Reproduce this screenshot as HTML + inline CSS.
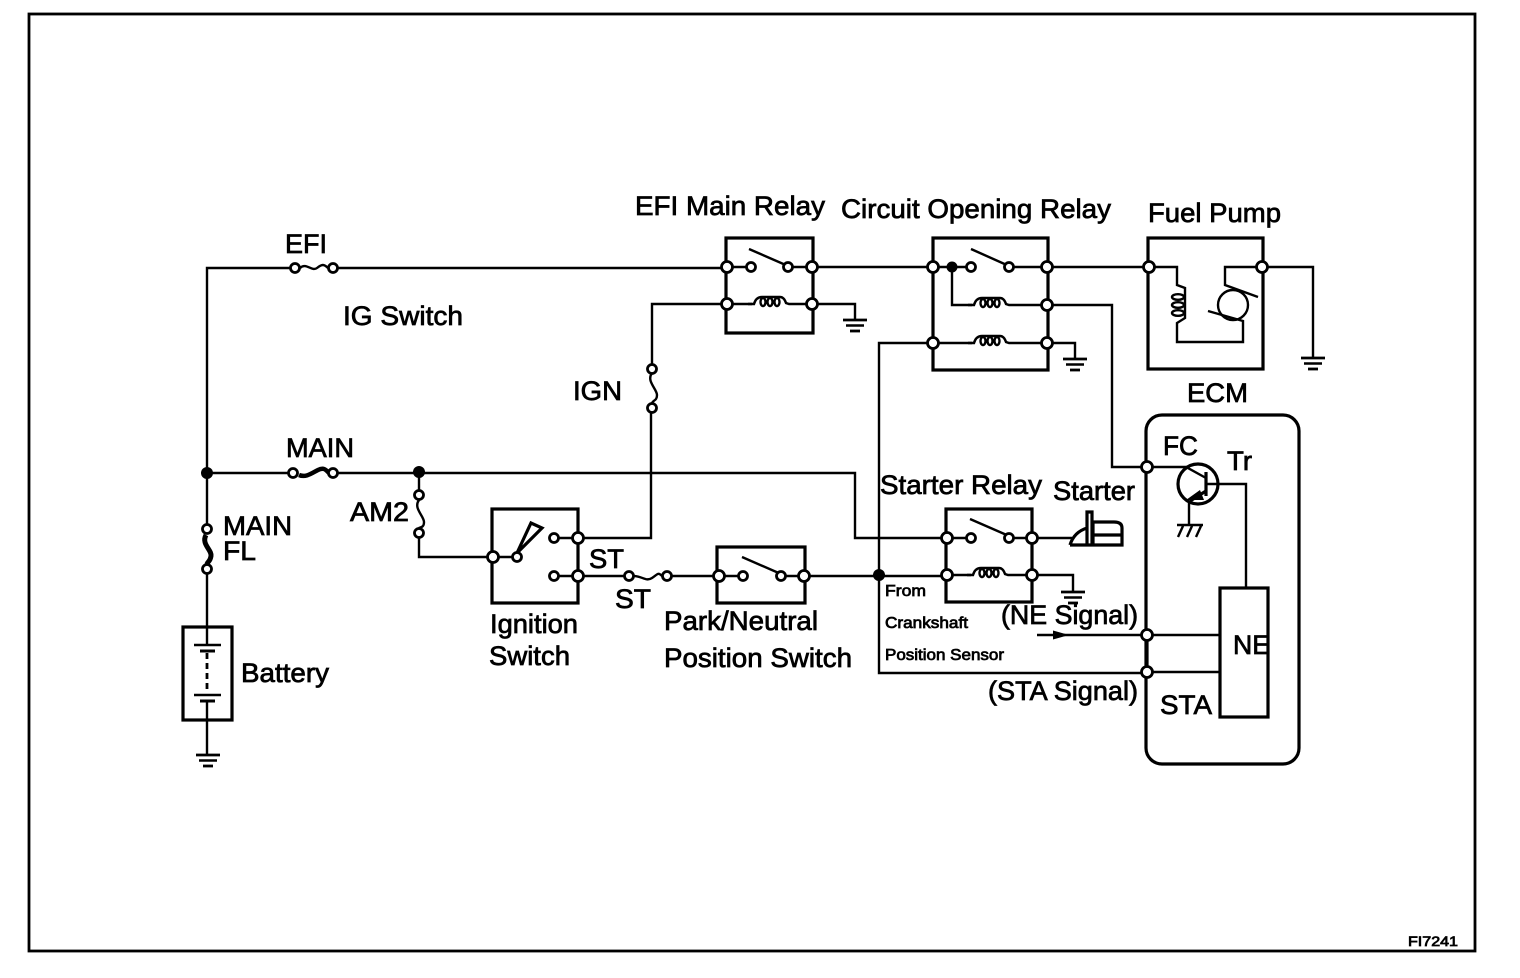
<!DOCTYPE html>
<html>
<head>
<meta charset="utf-8">
<style>
html,body{margin:0;padding:0;background:#fff}
svg{display:block}
text{font-family:"Liberation Sans",sans-serif;fill:#000;stroke:#000;stroke-width:.75;font-size:27px}
.w{fill:none;stroke:#000;stroke-width:2.4}
.b{fill:none;stroke:#000;stroke-width:3.2}
.c{fill:#fff;stroke:#000;stroke-width:2.8}
.n{fill:#000}
</style>
</head>
<body>
<svg width="1520" height="978" viewBox="0 0 1520 978" xmlns="http://www.w3.org/2000/svg">
<defs>
<g id="coil" fill="none" stroke="#000">
<path stroke-width="2.4" d="M0 0H6Q8-7 14-7H32Q36-7 38-1L41 0H49"/>
<ellipse cx="15" cy="-2" rx="2.500" ry="4" stroke-width="2.400"/>
<ellipse cx="22" cy="-2" rx="2.500" ry="4" stroke-width="2.400"/>
<ellipse cx="29" cy="-2" rx="2.500" ry="4" stroke-width="2.400"/>
</g>
<g id="gnd"><path d="M-12 0H12" stroke="#000" stroke-width="2.8"/><path d="M-9 5.500H9" stroke="#000" stroke-width="2.6"/><path d="M-5 11H5" stroke="#000" stroke-width="2.8"/></g>
</defs>
<rect x="29" y="14" width="1446" height="937" fill="none" stroke="#000" stroke-width="2.8"/>

<!-- main wiring -->
<path class="w" d="M207 473V268H295M333 268H727"/>
<path class="w" d="M207 473H293M333 473H855V538H947"/>
<path class="w" d="M207 473V529M207 569V627M207 720V755"/>
<path class="w" d="M419 472V495M419 533V557H493"/>
<path class="w" d="M578 538H651V408M652 368V304H727"/>
<path class="w" d="M578 576H629M667 576H719M804 576H947"/>
<path class="w" d="M812 267H933M1047 267H1149"/>
<path class="w" d="M933 343H879V673H1147"/>
<path class="w" d="M1047 305H1112V467H1147"/>
<path class="w" d="M1037 635H1147"/>

<!-- fuses -->
<path class="w" d="M300 268C306 262 312 272 317 268S324 264 328 268" stroke-width="2.800"/>
<path fill="none" stroke="#000" stroke-width="4.500" d="M299 475C306 478 312 473 318 470S326 470 329 473"/>
<path fill="none" stroke="#000" stroke-width="5" d="M206 535C201 544 212 550 211 556S208 561 207 564"/>
<path class="w" d="M419 500C413 508 424 516 424 522S420 527 419 528" stroke-width="2.800"/>
<path class="w" d="M652 373C646 381 657 389 657 395S653 400 652 403" stroke-width="2.800"/>
<path class="w" d="M634 576C642 576 646 582 652 578S658 572 662 576" stroke-width="2.800"/>
<circle class="c" cx="295" cy="268" r="4.500"/><circle class="c" cx="333" cy="268" r="4.500"/>
<circle class="c" cx="293" cy="473" r="4.500"/><circle class="c" cx="333" cy="473" r="4.500"/>
<circle class="c" cx="207" cy="529" r="4.500"/><circle class="c" cx="207" cy="569" r="4.500"/>
<circle class="c" cx="419" cy="495" r="4.500"/><circle class="c" cx="419" cy="533" r="4.500"/>
<circle class="c" cx="652" cy="369" r="4.500"/><circle class="c" cx="652" cy="408" r="4.500"/>
<circle class="c" cx="629" cy="576" r="4.500"/><circle class="c" cx="667" cy="576" r="4.500"/>

<!-- junctions -->
<circle class="n" cx="207" cy="473" r="6"/>
<circle class="n" cx="419" cy="472" r="6"/>
<circle class="n" cx="879" cy="575" r="6"/>

<!-- battery -->
<rect class="b" x="183" y="627" width="49" height="93"/>
<path class="w" d="M207 627V645M194 645H221M207 701V720"/>
<path d="M200 651H215M200 701H215" stroke="#000" stroke-width="3"/>
<path class="w" d="M194 695H221" stroke-width="1.600"/>
<path d="M207 653V693" stroke="#000" stroke-width="2.800" stroke-dasharray="6 4" fill="none"/>
<use href="#gnd" x="208" y="755"/>

<!-- EFI main relay -->
<rect class="b" x="726" y="238" width="87" height="95"/>
<path class="w" d="M727 267H751M788 267H812M749 249L788 266"/>
<path class="w" d="M727 304H752"/><use href="#coil" x="748" y="304"/><path class="w" d="M797 304H855V320"/>
<use href="#gnd" x="855" y="320"/>
<circle class="c" cx="727" cy="267" r="5.500"/><circle class="c" cx="751" cy="267" r="4.500"/><circle class="c" cx="788" cy="267" r="4.500"/><circle class="c" cx="812" cy="267" r="5.500"/>
<circle class="c" cx="727" cy="304" r="5.500"/><circle class="c" cx="812" cy="304" r="5.500"/>

<!-- circuit opening relay -->
<rect class="b" x="933" y="238" width="115" height="132"/>
<path class="w" d="M933 267H971M1009 267H1047M971 249L1009 266"/>
<path class="w" d="M952 267V305H972"/><use href="#coil" x="968" y="305"/><path class="w" d="M1017 305H1047"/>
<path class="w" d="M933 343H972"/><use href="#coil" x="968" y="343"/><path class="w" d="M1017 343H1075V359"/>
<use href="#gnd" x="1075" y="359"/>
<circle class="n" cx="952" cy="267" r="5.500"/>
<circle class="c" cx="933" cy="267" r="5.500"/><circle class="c" cx="971" cy="267" r="4.500"/><circle class="c" cx="1009" cy="267" r="4.500"/><circle class="c" cx="1047" cy="267" r="5.500"/>
<circle class="c" cx="1047" cy="305" r="5.500"/><circle class="c" cx="933" cy="343" r="5.500"/><circle class="c" cx="1047" cy="343" r="5.500"/>

<!-- fuel pump -->
<rect class="b" x="1148" y="238" width="115" height="131"/>
<path class="w" d="M1149 267H1177V285L1185 288V318L1177 323V342H1243V321L1208 311"/>
<ellipse cx="1178" cy="297" rx="6" ry="2.800" fill="none" stroke="#000" stroke-width="2.400"/>
<ellipse cx="1178" cy="305" rx="6" ry="2.800" fill="none" stroke="#000" stroke-width="2.400"/>
<ellipse cx="1178" cy="313" rx="6" ry="2.800" fill="none" stroke="#000" stroke-width="2.400"/>
<path class="w" d="M1262 267H1225V285L1258 297"/>
<circle class="w" cx="1233" cy="305" r="15"/>
<path class="w" d="M1262 267H1313V358"/>
<use href="#gnd" x="1313" y="358"/>
<circle class="c" cx="1149" cy="267" r="5.500"/><circle class="c" cx="1262" cy="267" r="5.500"/>

<!-- ignition switch -->
<rect class="b" x="492" y="509" width="86" height="94"/>
<path class="w" d="M493 557H517M554 538H578M554 576H578"/>
<path class="b" d="M517 553L531 523L542 528Z" stroke-width="2.800"/>
<circle class="c" cx="493" cy="557" r="5.500"/><circle class="c" cx="517" cy="557" r="4.500"/>
<circle class="c" cx="554" cy="538" r="4.500"/><circle class="c" cx="578" cy="538" r="5.500"/>
<circle class="c" cx="554" cy="576" r="4.500"/><circle class="c" cx="578" cy="576" r="5.500"/>

<!-- park/neutral switch -->
<rect class="b" x="717" y="547" width="88" height="56"/>
<path class="w" d="M719 576H743M781 576H804M742 557L781 574"/>
<circle class="c" cx="719" cy="576" r="5.500"/><circle class="c" cx="743" cy="576" r="4.500"/><circle class="c" cx="781" cy="576" r="4.500"/><circle class="c" cx="804" cy="576" r="5.500"/>

<!-- starter relay -->
<rect class="b" x="946" y="509" width="86" height="93"/>
<path class="w" d="M947 538H971M1009 538H1032M970 519L1009 536"/>
<path class="w" d="M947 575H971"/><use href="#coil" x="967" y="575"/><path class="w" d="M1016 575H1073V592"/>
<use href="#gnd" x="1073" y="592"/>
<path class="w" d="M1032 538H1072"/>
<path class="b" d="M1070 545H1122V528Q1122 522 1114 522H1093V545M1087 545V512H1092V545M1070 545Q1074 532 1087 528M1093 535H1122"/>
<circle class="c" cx="947" cy="538" r="5.500"/><circle class="c" cx="971" cy="538" r="4.500"/><circle class="c" cx="1009" cy="538" r="4.500"/><circle class="c" cx="1032" cy="538" r="5.500"/>
<circle class="c" cx="947" cy="575" r="5.500"/><circle class="c" cx="1032" cy="575" r="5.500"/>

<!-- ECM -->
<rect class="b" x="1146" y="415" width="153" height="349" rx="16" ry="16"/>
<path class="b" d="M1147 635V672" stroke-width="4"/>
<path class="w" d="M1147 467H1186L1206 478"/>
<circle class="b" cx="1198" cy="484" r="20"/>
<path class="b" d="M1206 472V496"/>
<path class="w" d="M1206 484H1246V588"/>
<path class="b" d="M1206 491L1190 501"/>
<path class="n" d="M1186 500L1200 490L1204 500Z"/>
<path class="w" d="M1189 501V525"/>
<path class="w" d="M1177 525H1203M1183 526L1178 537M1192 526L1187 537M1201 526L1196 537"/>
<rect class="b" x="1220" y="588" width="48" height="129" fill="#fff"/>
<path class="w" d="M1147 635H1220M1147 672H1220"/>
<circle class="c" cx="1147" cy="467" r="5.500"/><circle class="c" cx="1147" cy="635" r="5.500"/><circle class="c" cx="1147" cy="672" r="5.500"/>
<path class="n" d="M1053 630.500L1069 635L1053 639.500Z"/>

<!-- labels -->
<text x="285" y="253" textLength="42" lengthAdjust="spacingAndGlyphs">EFI</text>
<text x="343" y="325" textLength="120" lengthAdjust="spacingAndGlyphs">IG Switch</text>
<text x="573" y="400" textLength="49" lengthAdjust="spacingAndGlyphs">IGN</text>
<text x="286" y="457" textLength="68" lengthAdjust="spacingAndGlyphs">MAIN</text>
<text x="223" y="535" textLength="69" lengthAdjust="spacingAndGlyphs">MAIN</text>
<text x="223" y="560" textLength="33" lengthAdjust="spacingAndGlyphs">FL</text>
<text x="350" y="521" textLength="59" lengthAdjust="spacingAndGlyphs">AM2</text>
<text x="589" y="568" textLength="35" lengthAdjust="spacingAndGlyphs">ST</text>
<text x="615" y="608" textLength="36" lengthAdjust="spacingAndGlyphs">ST</text>
<text x="490" y="633" textLength="88" lengthAdjust="spacingAndGlyphs">Ignition</text>
<text x="489" y="665" textLength="81" lengthAdjust="spacingAndGlyphs">Switch</text>
<text x="664" y="630" textLength="154" lengthAdjust="spacingAndGlyphs">Park/Neutral</text>
<text x="664" y="667" textLength="188" lengthAdjust="spacingAndGlyphs">Position Switch</text>
<text x="241" y="682" textLength="88" lengthAdjust="spacingAndGlyphs">Battery</text>
<text x="635" y="215" textLength="190" lengthAdjust="spacingAndGlyphs">EFI Main Relay</text>
<text x="841" y="218" textLength="270" lengthAdjust="spacingAndGlyphs">Circuit Opening Relay</text>
<text x="1148" y="222" textLength="133" lengthAdjust="spacingAndGlyphs">Fuel Pump</text>
<text x="1187" y="402" textLength="61" lengthAdjust="spacingAndGlyphs">ECM</text>
<text x="1163" y="455" textLength="35" lengthAdjust="spacingAndGlyphs">FC</text>
<text x="1227" y="470" textLength="25" lengthAdjust="spacingAndGlyphs">Tr</text>
<text x="880" y="494" textLength="162" lengthAdjust="spacingAndGlyphs">Starter Relay</text>
<text x="1053" y="500" textLength="82" lengthAdjust="spacingAndGlyphs">Starter</text>
<text x="885" y="596" textLength="41" lengthAdjust="spacingAndGlyphs" style="font-size:16px">From</text>
<text x="885" y="628" textLength="83" lengthAdjust="spacingAndGlyphs" style="font-size:16px">Crankshaft</text>
<text x="885" y="660" textLength="119" lengthAdjust="spacingAndGlyphs" style="font-size:16px">Position Sensor</text>
<text x="1001" y="624" textLength="137" lengthAdjust="spacingAndGlyphs">(NE Signal)</text>
<text x="988" y="700" textLength="150" lengthAdjust="spacingAndGlyphs">(STA Signal)</text>
<text x="1233" y="654" textLength="37" lengthAdjust="spacingAndGlyphs">NE</text>
<text x="1160" y="714" textLength="52" lengthAdjust="spacingAndGlyphs">STA</text>
<text x="1408" y="946" textLength="50" lengthAdjust="spacingAndGlyphs" style="font-size:14px">FI7241</text>
</svg>
</body>
</html>
